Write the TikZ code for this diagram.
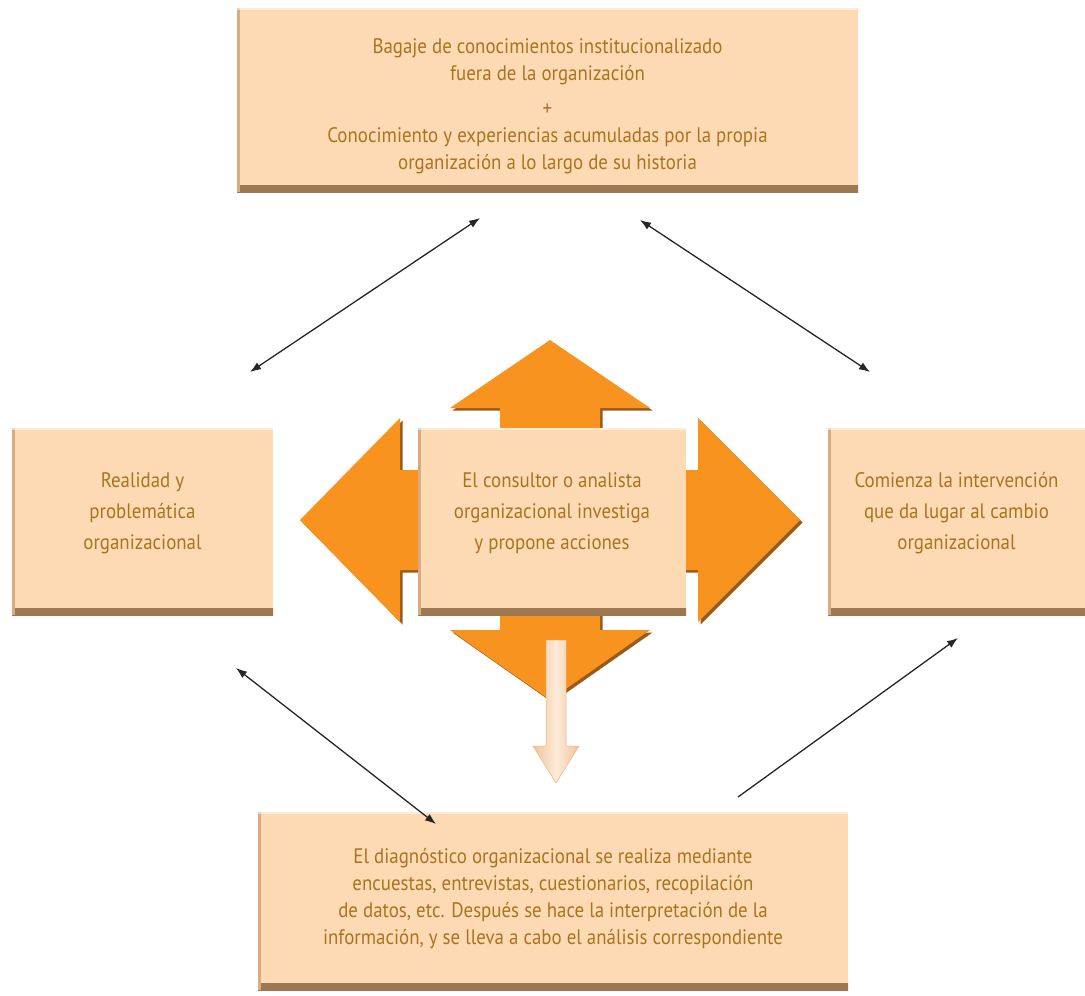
\documentclass[tikz,border=0pt]{standalone}
\usepackage{fontspec}
\setmainfont{PT Sans}[FakeStretch=0.9]
\usetikzlibrary{arrows.meta}
\definecolor{peach}{HTML}{FDDAB3}
\definecolor{txt}{HTML}{A97420}
\definecolor{orng}{HTML}{F7931E}
\definecolor{orngdark}{HTML}{9A5A1A}
\definecolor{boxbar}{HTML}{9C7650}
\definecolor{boxedge}{HTML}{D8AC80}
\definecolor{lightA}{HTML}{F0C49A}
\definecolor{lightB}{HTML}{FDEBD8}
\begin{document}
\begin{tikzpicture}[x=1pt,y=-1pt,
 box/.style={rectangle, fill=peach, inner sep=0pt,
   path picture={
     \shade[top color=boxedge, bottom color=boxbar]
       ([yshift=7pt]path picture bounding box.south west) rectangle (path picture bounding box.south east);
     \fill[boxedge] (path picture bounding box.south west) rectangle ([xshift=2.5pt]path picture bounding box.north west);
     \fill[white, opacity=0.5] (path picture bounding box.north west) rectangle ([yshift=-2pt]path picture bounding box.north east);
   }},
 boxtext/.style={inner sep=0pt, align=center, text=txt, font=\fontsize{21}{27}\selectfont},
 midtext/.style={boxtext, font=\fontsize{21}{31}\selectfont},
 link/.style={line width=1.3pt, draw=black!85, {Latex[length=11pt,width=8pt]}-{Latex[length=11pt,width=8pt]}},
 linkone/.style={line width=1.3pt, draw=black!85, -{Latex[length=11pt,width=8pt]}}
]
\useasboundingbox (0,0) rectangle (1085,996);
\fill[white] (0,0) rectangle (1085,996);

% orange four-way arrow
\def\crosspath{(550,340) -- (650,408) -- (600,408) -- (600,470) -- (698,470) -- (698,418) -- (800,520) -- (698,622) -- (698,570) -- (600,570) -- (600,630) -- (650,630) -- (550,700) -- (450,630) -- (500,630) -- (500,570) -- (400,570) -- (400,622) -- (300,520) -- (400,418) -- (400,470) -- (500,470) -- (500,408) -- (450,408) -- cycle}
\fill[orngdark, shift={(2.5,2.5)}] \crosspath;
\fill[orng] \crosspath;

% light down arrow
\shade[left color=lightA, right color=lightA, middle color=lightB, draw=lightA!80!brown, line width=0.5pt]
  (546,640) -- (566,640) -- (566,746) -- (579,746) -- (556,783) -- (533,746) -- (546,746) -- cycle;

% boxes
\node[box, minimum width=621, minimum height=184] (top) at (547.5,100) {};
\node[box, minimum width=261, minimum height=187] (left) at (142.5,521.5) {};
\node[box, minimum width=268, minimum height=187] (center) at (552,521.5) {};
\node[box, minimum width=257, minimum height=187] (right) at (956.5,521.5) {};
\node[box, minimum width=590, minimum height=178] (bottom) at (553,901) {};

% texts
\node[boxtext] (toptext) at ([yshift=-6pt]top.center)
  {Bagaje de conocimientos institucionalizado\\ fuera de la organización\\[8pt] +\\ Conocimiento y experiencias acumuladas por la propia\\ organización a lo largo de su historia};
\node[midtext] (lefttext) at ([yshift=8pt]left.center) {Realidad y\\ problemática\\ organizacional};
\node[midtext] (centertext) at ([yshift=8pt]center.center) {El consultor o analista\\ organizacional investiga\\ y propone acciones};
\node[midtext] (righttext) at ([yshift=8pt]right.center) {Comienza la intervención\\ que da lugar al cambio\\ organizacional};
\node[boxtext] (bottomtext) at ([yshift=2pt]bottom.center)
  {El diagnóstico organizacional se realiza mediante\\ encuestas, entrevistas, cuestionarios, recopilación\\ de datos, etc. Después se hace la interpretación de la\\ información, y se lleva a cabo el análisis correspondiente};

% black connectors
\coordinate (tl1) at (250,372);
\coordinate (tl2) at (480,218);
\coordinate (tr1) at (640,220);
\coordinate (tr2) at (870,372);
\coordinate (bl1) at (236,668);
\coordinate (bl2) at (436,824);
\coordinate (br1) at (738,797);
\coordinate (br2) at (958,638);
\draw[link] (tl1) -- (tl2);
\draw[link] (tr1) -- (tr2);
\draw[link] (bl1) -- (bl2);
\draw[linkone] (br1) -- (br2);
\end{tikzpicture}
\end{document}
